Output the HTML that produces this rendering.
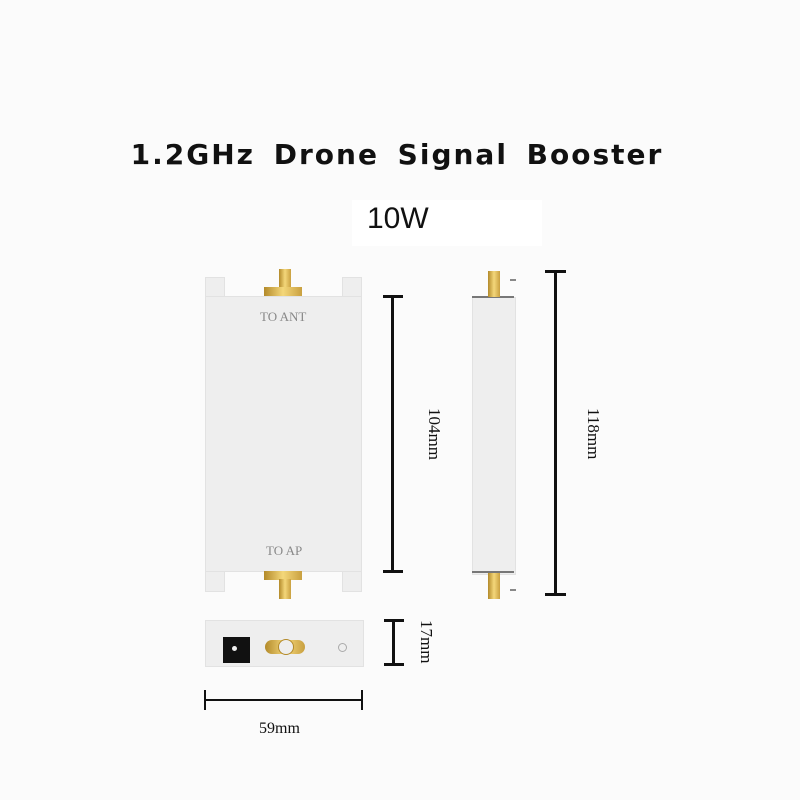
<!DOCTYPE html>
<html><head><style>
html,body{margin:0;padding:0;background:#fbfbfb;}
#c{position:relative;width:800px;height:800px;overflow:hidden;font-family:"Liberation Serif",serif;}
.a{position:absolute;}
.t{font-family:"DejaVu Sans","Liberation Sans",sans-serif;font-weight:bold;font-size:28px;letter-spacing:2px;word-spacing:7px;left:-3px;width:800px;text-align:center;top:138px;color:#111;}
.k{background:#111;}
.body{background:#eeeeee;border:1px solid #e2e2e2;}
.gold{background:linear-gradient(90deg,#b38a2a,#f4d77a,#c9a040);}
.rot{transform:rotate(90deg);transform-origin:left top;font-size:17px;color:#111;white-space:nowrap;}
</style></head><body><div id="c">
<div class="a t">1.2GHz Drone Signal Booster</div>
<div class="a" style="left:352px;top:200px;width:190px;height:46px;background:#fff"></div>
<div class="a" style="left:367px;top:202px;font-family:'Liberation Sans',sans-serif;font-size:30px;color:#111">10W</div>

<div class="a body" style="left:205px;top:277px;width:18px;height:22px;"></div>
<div class="a body" style="left:342px;top:277px;width:18px;height:22px;"></div>
<div class="a body" style="left:205px;top:568px;width:18px;height:22px;"></div>
<div class="a body" style="left:342px;top:568px;width:18px;height:22px;"></div>
<div class="a body" style="left:205px;top:296px;width:155px;height:274px;"></div>
<div class="a gold" style="left:279px;top:269px;width:12px;height:20px"></div>
<div class="a gold" style="left:264px;top:287px;width:38px;height:9px"></div>
<div class="a gold" style="left:264px;top:571px;width:38px;height:9px"></div>
<div class="a gold" style="left:279px;top:579px;width:12px;height:20px"></div>
<div class="a" style="left:260px;top:309px;font-size:13px;color:#888">TO ANT</div>
<div class="a" style="left:266px;top:543px;font-size:13px;color:#888">TO AP</div>

<div class="a k" style="left:391px;top:295px;width:3px;height:278px"></div>
<div class="a k" style="left:383px;top:295px;width:20px;height:3px"></div>
<div class="a k" style="left:383px;top:570px;width:20px;height:3px"></div>
<div class="a rot" style="left:444px;top:408px">104mm</div>

<div class="a body" style="left:472px;top:297px;width:42px;height:276px;"></div>
<div class="a" style="left:472px;top:296px;width:42px;height:2px;background:#777"></div>
<div class="a" style="left:472px;top:571px;width:42px;height:2px;background:#777"></div>
<div class="a gold" style="left:488px;top:271px;width:12px;height:26px"></div>
<div class="a gold" style="left:488px;top:573px;width:12px;height:26px"></div>
<div class="a" style="left:510px;top:279px;width:6px;height:2px;background:#888"></div>
<div class="a" style="left:510px;top:589px;width:6px;height:2px;background:#888"></div>

<div class="a k" style="left:554px;top:270px;width:3px;height:326px"></div>
<div class="a k" style="left:545px;top:270px;width:21px;height:3px"></div>
<div class="a k" style="left:545px;top:593px;width:21px;height:3px"></div>
<div class="a rot" style="left:603px;top:408px">118mm</div>

<div class="a body" style="left:205px;top:620px;width:157px;height:45px;"></div>
<div class="a k" style="left:223px;top:637px;width:27px;height:26px"></div>
<div class="a" style="left:232px;top:646px;width:5px;height:5px;border-radius:50%;background:#eee"></div>
<div class="a gold" style="left:265px;top:640px;width:40px;height:14px;border-radius:7px"></div>
<div class="a" style="left:278px;top:639px;width:14px;height:14px;border-radius:50%;background:#eee;border:1px solid #b38a2a"></div>
<div class="a" style="left:338px;top:643px;width:7px;height:7px;border-radius:50%;border:1px solid #aaa"></div>

<div class="a k" style="left:392px;top:619px;width:3px;height:47px"></div>
<div class="a k" style="left:384px;top:619px;width:20px;height:3px"></div>
<div class="a k" style="left:384px;top:663px;width:20px;height:3px"></div>
<div class="a rot" style="left:436px;top:620px">17mm</div>

<div class="a k" style="left:205px;top:699px;width:157px;height:2px"></div>
<div class="a k" style="left:204px;top:690px;width:2px;height:20px"></div>
<div class="a k" style="left:361px;top:690px;width:2px;height:20px"></div>
<div class="a" style="left:259px;top:720px;font-size:16px;color:#111">59mm</div>
</div></body></html>
